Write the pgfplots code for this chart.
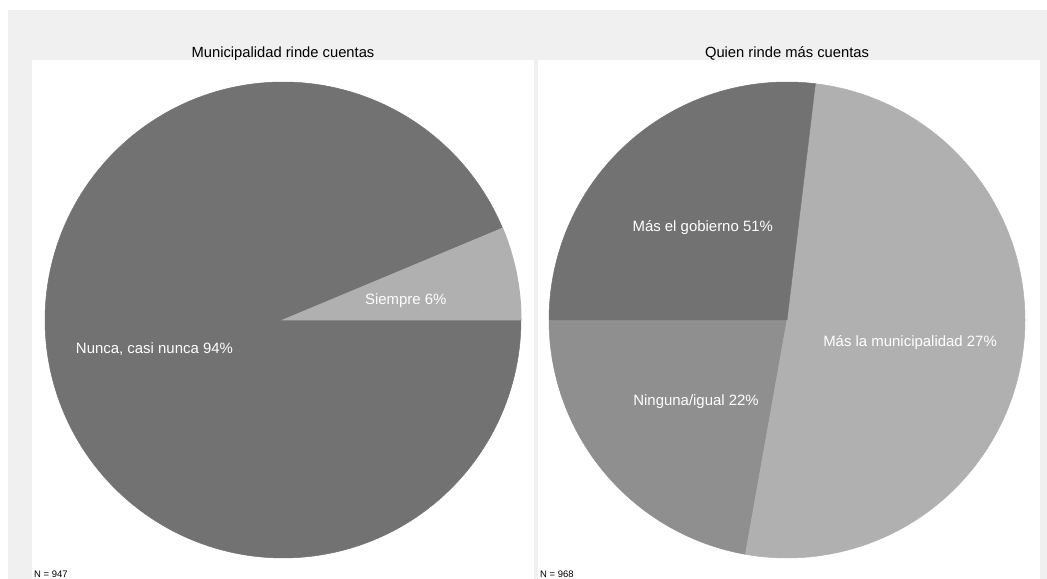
\documentclass[border=0pt]{standalone}
\usepackage{pgfplots}
\pgfplotsset{compat=1.18}
\usepackage{fontspec}
\setmainfont{Liberation Sans}
\definecolor{bgout}{HTML}{F0F0F0}
\definecolor{sdark}{HTML}{727272}
\definecolor{slight}{HTML}{B0B0B0}
\definecolor{smid}{HTML}{8F8F8F}
% slice shares (percent)
\def\LSiempre{6.3}
\def\LNunca{93.7}
\def\RNinguna{22.2}
\def\RMuni{50.9}
\def\RGob{26.9}
\begin{document}
\begin{tikzpicture}[x=1bp,y=1bp]
\fill[white] (0,0) rectangle (1047,579);
\fill[bgout] (8,0) rectangle (1047,569);
\fill[white] (32,0) rectangle (534,519);
\fill[white] (538,0) rectangle (1040,519);
\node[anchor=base, font=\fontsize{14.8}{16}\selectfont] at (283,521.7) {Municipalidad rinde cuentas};
\node[anchor=base, font=\fontsize{14.8}{16}\selectfont] at (787,521.7) {Quien rinde más cuentas};
\node[anchor=base west, inner sep=0pt, font=\fontsize{9.5}{10}\selectfont] at (34,1.5) {N = 947};
\node[anchor=base west, inner sep=0pt, font=\fontsize{9.5}{10}\selectfont] at (540,1.5) {N = 968};
% left pie
\begin{axis}[at={(32bp,0bp)}, anchor=south west, scale only axis,
  width=502bp, height=519bp, hide axis,
  xmin=-1.05462, xmax=1.05462, ymin=-1.08824, ymax=1.09244, clip=false]
\pgfmathsetmacro{\aA}{3.6*\LSiempre}
\pgfmathsetmacro{\aB}{\aA+3.6*\LNunca}
\addplot[fill=sdark, draw=sdark, line width=0.5pt, domain=\aA:\aB, samples=200] ({cos(x)},{sin(x)}) -- (axis cs:0,0) -- cycle;
\addplot[fill=slight, draw=slight, line width=1pt, domain=0:\aA, samples=40] ({cos(x)},{sin(x)}) -- (axis cs:0,0) -- cycle;
\node[anchor=base, text=white, font=\fontsize{15}{16}\selectfont] at (axis cs:0.516,0.067) {Siempre 6\%};
\node[anchor=base, text=white, font=\fontsize{15}{16}\selectfont] at (axis cs:-0.540,-0.140) {Nunca, casi nunca 94\%};
\end{axis}
% right pie
\begin{axis}[at={(538bp,0bp)}, anchor=south west, scale only axis,
  width=502bp, height=519bp, hide axis,
  xmin=-1.04622, xmax=1.06303, ymin=-1.08824, ymax=1.09244, clip=false]
\pgfmathsetmacro{\bA}{180}
\pgfmathsetmacro{\bB}{\bA+3.6*\RNinguna}
\pgfmathsetmacro{\bC}{\bB+3.6*\RMuni}
\pgfmathsetmacro{\bD}{\bC+3.6*\RGob}
\addplot[fill=smid, draw=smid, line width=0.5pt, domain=\bA:\bB, samples=80] ({cos(x)},{sin(x)}) -- (axis cs:0,0) -- cycle;
\addplot[fill=slight, draw=slight, line width=0.5pt, domain=\bB:\bC, samples=120] ({cos(x)},{sin(x)}) -- (axis cs:0,0) -- cycle;
\addplot[fill=sdark, draw=sdark, line width=0.5pt, domain=\bC:\bD, samples=80] ({cos(x)},{sin(x)}) -- (axis cs:0,0) -- cycle;
\node[anchor=base, text=white, font=\fontsize{15}{16}\selectfont] at (axis cs:-0.354,0.370) {Más el gobierno 51\%};
\node[anchor=base, text=white, font=\fontsize{15}{16}\selectfont] at (axis cs:0.517,-0.113) {Más la municipalidad 27\%};
\node[anchor=base, text=white, font=\fontsize{15}{16}\selectfont] at (axis cs:-0.382,-0.360) {Ninguna/igual 22\%};
\end{axis}
\end{tikzpicture}
\end{document}
